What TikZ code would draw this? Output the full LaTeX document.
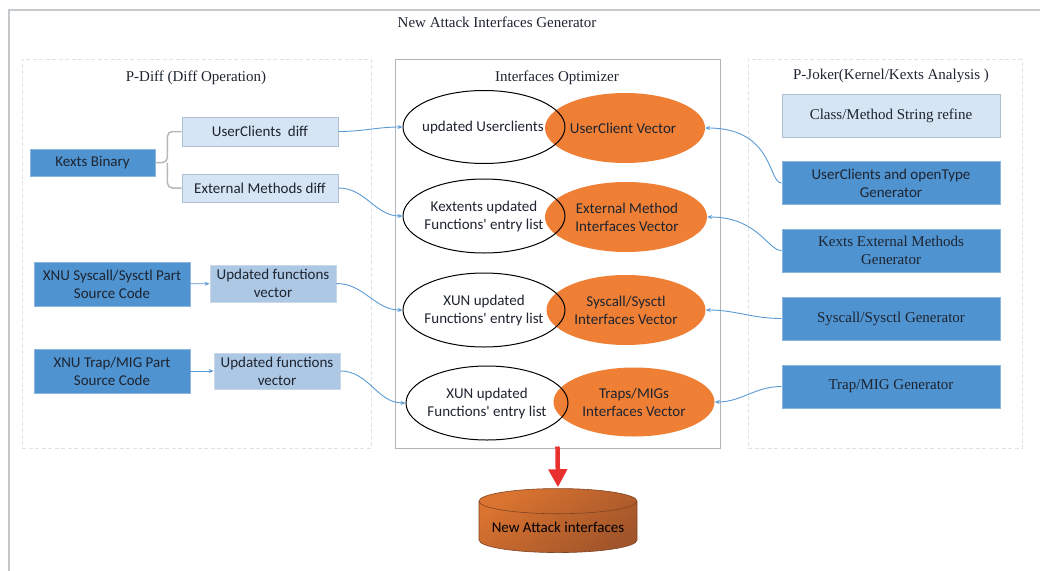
\documentclass[tikz,border=0pt]{standalone}
\usepackage{fontspec}
\setmainfont{Liberation Serif}
\newfontfamily\boxsans{Carlito}
\usetikzlibrary{shapes.geometric,arrows.meta}

\definecolor{dkblue}{HTML}{4F93D0}
\definecolor{dkedge}{HTML}{8DB6DE}
\definecolor{ltblue}{HTML}{D6E5F3}
\definecolor{ltedge}{HTML}{AEBFD0}
\definecolor{midblue}{HTML}{ADC8E4}
\definecolor{midedge}{HTML}{C9D7E6}
\definecolor{vecorange}{HTML}{EE7F35}
\definecolor{flowblue}{HTML}{5B9BD5}
\definecolor{treegray}{HTML}{B8B8B8}
\definecolor{framegray}{HTML}{C6C9CC}
\definecolor{dashgray}{HTML}{DCE3EA}
\definecolor{inkdark}{HTML}{1E2430}
\definecolor{alarmred}{HTML}{E8312F}
\definecolor{dbtop}{HTML}{DB7430}
\definecolor{dbbottom}{HTML}{A1552A}

\tikzset{
  serifbig/.style={font=\fontsize{15}{18}\selectfont, text=inkdark},
  sanstext/.style={font=\boxsans\fontsize{15}{18}\selectfont, text=inkdark},
  dkbox/.style={sanstext, fill=dkblue, draw=dkedge, line width=0.8pt,
    inner sep=0pt, align=center},
  ltbox/.style={sanstext, fill=ltblue, draw=ltedge, line width=0.8pt,
    inner sep=0pt, align=center},
  midbox/.style={sanstext, fill=midblue, draw=midedge, line width=0.8pt,
    inner sep=0pt, align=center},
  genbox/.style={dkbox, minimum width=218pt, minimum height=43pt},
  oval/.style={ellipse, draw=black, line width=1pt, inner sep=0pt},
  vecoval/.style={ellipse, fill=vecorange, inner sep=0pt},
  ovaltext/.style={sanstext, align=center},
  flow/.style={-{Stealth[length=5pt,width=4pt]}, draw=flowblue, line width=0.9pt},
  tree/.style={draw=treegray, line width=1.5pt, rounded corners=5pt},
  panel/.style={draw=dashgray, line width=1pt, dash pattern=on 4pt off 2.5pt,
    inner sep=0pt},
  optpanel/.style={draw=framegray!90!black, line width=1pt, inner sep=0pt},
}

\begin{document}
\begin{tikzpicture}[x=1pt,y=-1pt]
\clip (0,0) rectangle (1040,570);
\fill[white] (0,0) rectangle (1040,570);

% outer frame of the generator
\draw[draw=framegray, line width=1.6pt] (9,10) rectangle (1060,590);
\node[serifbig] (title) at (497,22) {New Attack Interfaces Generator};

% three panels
\node[panel, minimum width=349pt, minimum height=389pt] (pdiff) at (196.5,253.5) {};
\node[optpanel, minimum width=325pt, minimum height=389pt] (opt) at (557.5,253.5) {};
\node[panel, minimum width=274pt, minimum height=389pt] (pjoker) at (885,253.5) {};

\node[serifbig] (pdifft) at (196,78) {P-Diff (Diff Operation)};
\node[serifbig] (optt) at (557,78) {Interfaces Optimizer};
\node[serifbig] (pjokert) at (891,76) {P-Joker(Kernel/Kexts Analysis )};

% P-Diff side
\node[dkbox, minimum width=125pt, minimum height=27pt] (kb) at (92.5,162.5) {Kexts Binary};
\node[ltbox, minimum width=156pt, minimum height=29pt] (ucd) at (260,131.5) {UserClients\ \ diff};
\node[ltbox, minimum width=156pt, minimum height=28pt] (emd) at (260,188) {External Methods diff};
\node[dkbox, minimum width=156pt, minimum height=44pt] (xsys) at (112,284) {XNU Syscall/Sysctl Part\\Source Code};
\node[midbox, minimum width=126pt, minimum height=37pt] (uf1) at (273,283.5) {Updated functions\\vector};
\node[dkbox, minimum width=156pt, minimum height=44pt] (xtrap) at (112,371) {XNU Trap/MIG Part\\Source Code};
\node[midbox, minimum width=126pt, minimum height=36pt] (uf2) at (277,371) {Updated functions\\vector};

\draw[tree] (kb.east) -- ++(12,0) coordinate (fork) |- (ucd.west);
\draw[tree] (fork) |- (emd.west);
\draw[flow] (xsys) -- (uf1);
\draw[flow] (xtrap) -- (uf2);

% optimizer: vectors and updated entry lists
\node[vecoval, minimum width=160pt, minimum height=70pt] (v1) at (625,128) {};
\node[vecoval, minimum width=162pt, minimum height=70pt] (v2) at (626,217) {};
\node[vecoval, minimum width=159pt, minimum height=70pt] (v3) at (626,310) {};
\node[vecoval, minimum width=161pt, minimum height=69pt] (v4) at (634,402) {};

\node[oval, minimum width=162pt, minimum height=73pt] (u1) at (484,127) {};
\node[oval, minimum width=162pt, minimum height=74pt] (u2) at (484,216) {};
\node[oval, minimum width=162pt, minimum height=74pt] (u3) at (484,310) {};
\node[oval, minimum width=162pt, minimum height=74pt] (u4) at (487,403) {};

\node[ovaltext] (u1t) at (483,127) {updated Userclients};
\node[ovaltext] (u2t) at (484,216) {Kextents updated\\Functions' entry list};
\node[ovaltext] (u3t) at (484,310) {XUN updated\\Functions' entry list};
\node[ovaltext] (u4t) at (487,403) {XUN updated\\Functions' entry list};

\node[ovaltext] (v1t) at (623,128) {UserClient Vector};
\node[ovaltext] (v2t) at (627,217) {External Method\\Interfaces Vector};
\node[ovaltext] (v3t) at (626,310) {Syscall/Sysctl\\Interfaces Vector};
\node[ovaltext] (v4t) at (634,402) {Traps/MIGs\\Interfaces Vector};

% P-Joker side
\node[ltbox, serifbig, minimum width=218pt, minimum height=43pt] (csr) at (891,115.5) {Class/Method String refine};
\node[genbox] (ucg) at (891,183) {UserClients and openType\\Generator};
\node[genbox, serifbig] (keg) at (891,250.5) {Kexts External Methods\\Generator};
\node[genbox, serifbig] (ssg) at (891,318.5) {Syscall/Sysctl Generator};
\node[genbox, serifbig] (tmg) at (891,386.5) {Trap/MIG Generator};

% connectors into the optimizer
\draw[flow] (ucd.east) to[out=0,in=180] (u1.west);
\draw[flow] (emd.east) to[out=0,in=180] (u2.west);
\draw[flow] (uf1.east) to[out=0,in=180] (u3.west);
\draw[flow] (uf2.east) to[out=0,in=180] (u4.west);

\draw[flow] (ucg.west) .. controls (768,183) and (774,128) .. (v1.east);
\draw[flow] (keg.west) .. controls (768,251) and (758,217) .. (v2.east);
\draw[flow] (ssg.west) to[out=180,in=0] (v3.east);
\draw[flow] (tmg.west) to[out=180,in=0] (v4.east);

% result store
\node[cylinder, shape border rotate=90, aspect=0.19, draw=dbbottom!80!black,
  line width=0.6pt, left color=dbtop, right color=dbbottom, shading angle=35,
  minimum width=158pt, minimum height=64pt, inner sep=0pt,
  sanstext, text=black] (db) at (558,527) {New Attack interfaces};

\draw[alarmred, line width=4.5pt, -{Triangle[length=18pt,width=18pt]},
  shorten <=-2pt, shorten >=1pt] (opt.south) -- (db.north);
\end{tikzpicture}
\end{document}
